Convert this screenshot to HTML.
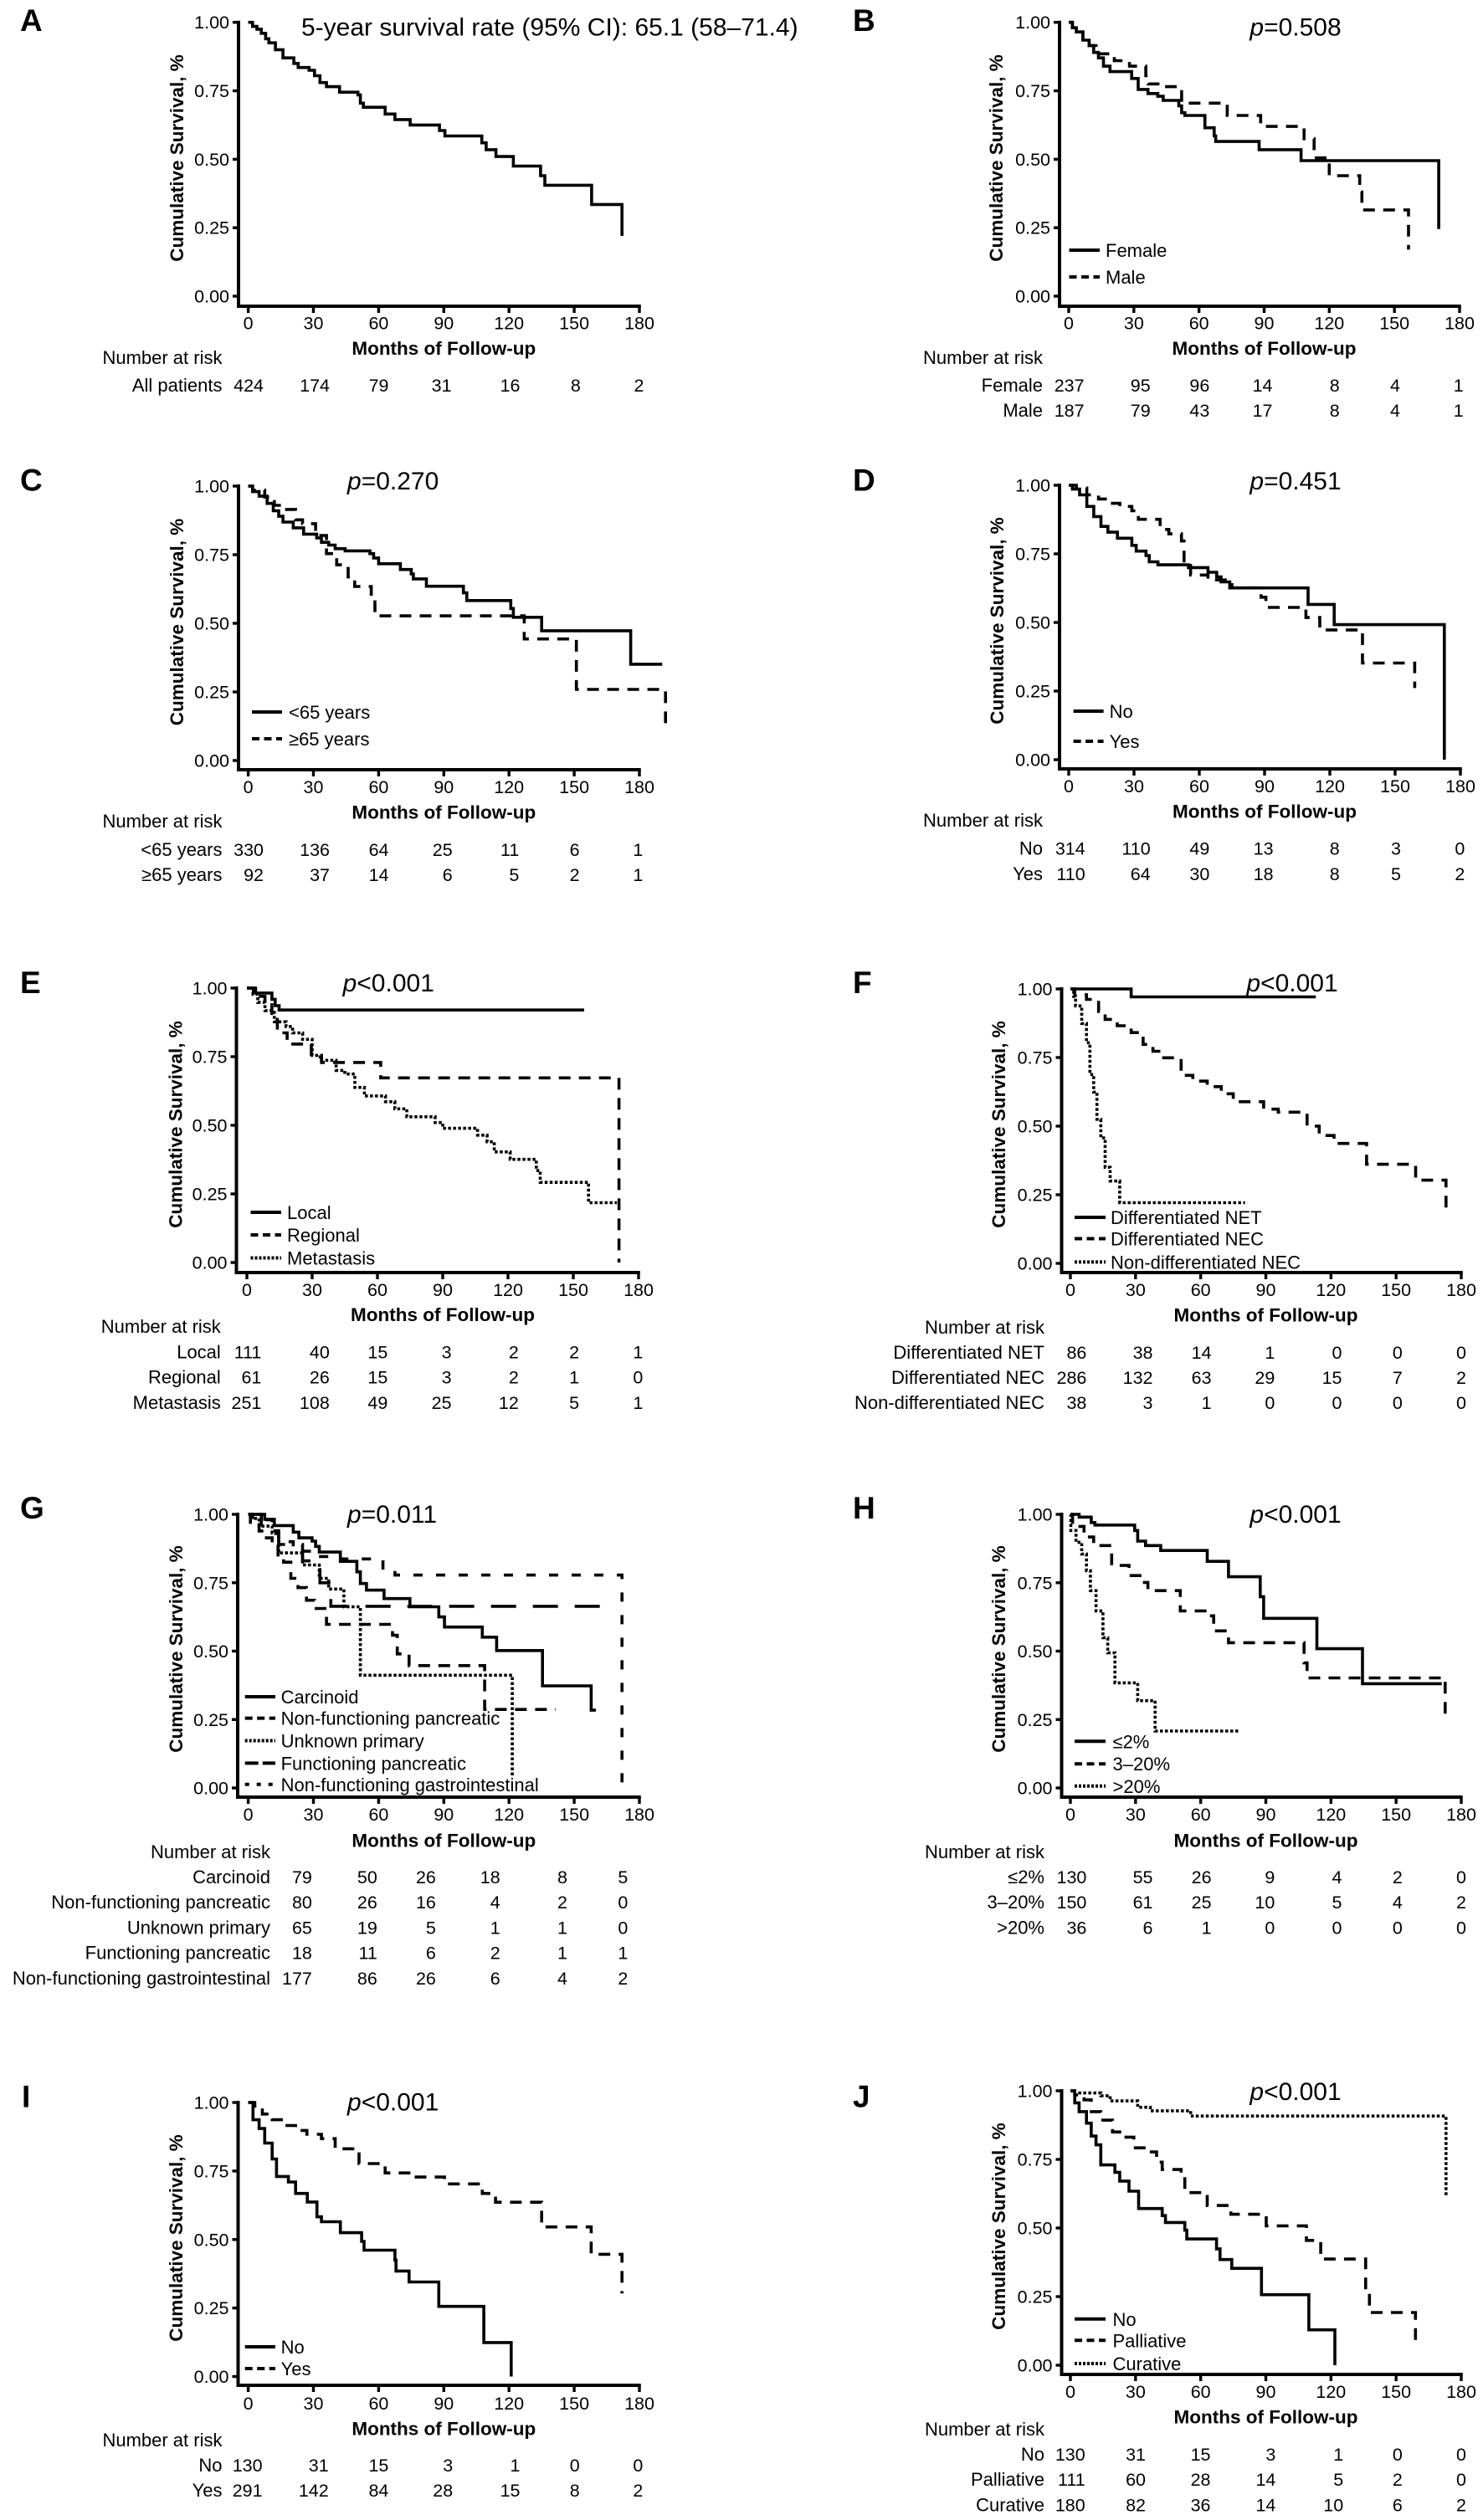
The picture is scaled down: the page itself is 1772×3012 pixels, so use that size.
<!DOCTYPE html>
<html lang="en">
<head>
<meta charset="utf-8">
<title>Kaplan-Meier survival curves, panels A to J</title>
<style>
  html, body { margin: 0; padding: 0; background: #fff; }
  svg { display: block; }
  text { font-family: "Liberation Sans", Arial, sans-serif; fill: #000; }
</style>
</head>
<body>
<svg id="figure" xmlns="http://www.w3.org/2000/svg" width="1772" height="3012" viewBox="0 0 1772 3012"></svg>
<script>
// ---------- shared axis values ----------
const xTickValues = [0, 30, 60, 90, 120, 150, 180];
const yTickValues = [0, 0.25, 0.5, 0.75, 1];
const yTickLabels = ['0.00', '0.25', '0.50', '0.75', '1.00'];

// ---------- Panel A ----------
const panelAMonths = [2,4,6,8,9.5,12.5,16,21,23,28,30.5,33,36,42,50.5,51.6,53,63,67.5,74.5,88,90.5,107.5,109.5,114,122,134.5,136.5,158,172];
const panelAAll = [.985,.975,.96,.94,.925,.9,.87,.85,.835,.825,.805,.78,.765,.745,.735,.705,.69,.665,.645,.625,.605,.585,.56,.535,.51,.475,.44,.405,.335,.22];

// ---------- Panel B ----------
const panelBFemaleMonths = [1.7,3.5,6.5,9.4,11.5,13.7,16,19,29,32,36.5,41,43.5,50.7,52,53.5,62.7,67,67.7,87.7,107,170.4];
const panelBFemale = [.98,.965,.935,.915,.89,.87,.84,.82,.795,.755,.74,.73,.715,.695,.67,.66,.615,.585,.565,.535,.495,.245];
const panelBMaleMonths = [1.7,4,6.5,9.4,12.6,21,28,35.5,36.6,43,52,73,88.4,108.4,113,120,134,135,156.5];
const panelBMale = [.98,.965,.935,.915,.885,.86,.84,.805,.775,.765,.705,.66,.62,.575,.505,.44,.38,.315,.17];

// ---------- Panel C ----------
const panelCYoungMonths = [2,5,8.7,11.5,14,16,20.7,25.5,31.5,33.7,37,40,44.6,56,57.7,60,70,75,76,82,99,100.6,120.8,122,135,176,190.5];
const panelCYoung = [.98,.963,.937,.91,.89,.869,.848,.825,.811,.795,.785,.772,.764,.754,.738,.717,.696,.68,.662,.635,.611,.583,.554,.522,.473,.351,.351];
const panelCOldMonths = [2,7.6,12,16,21.8,25,31,36,39,40.7,46,49,56.6,58.3,127,151,192];
const panelCOld = [.985,.96,.93,.915,.877,.863,.82,.754,.738,.713,.669,.634,.6,.527,.443,.259,.128];

// ---------- Panel D ----------
const panelDNoMonths = [1.7,5,8.3,11.5,14.8,18,22.4,29,31,35.5,37,41,55,64,68,70,74,110,122,172.6];
const panelDNo = [.986,.965,.923,.886,.85,.829,.807,.781,.76,.744,.721,.71,.7,.683,.666,.648,.626,.566,.492,0];
const panelDYesMonths = [3.5,8.3,13.7,19,23.5,29,32,42,46,51.8,53,56,64,73.6,75,88.4,90.6,109,115.4,135,159];
const panelDYes = [.99,.965,.95,.934,.923,.907,.876,.839,.823,.797,.708,.673,.655,.645,.626,.592,.555,.518,.473,.352,.261];

// ---------- Panel E ----------
const panelELocalMonths = [4,11.5,13,14.8,155];
const panelELocal = [.982,.959,.936,.92,.92];
const panelERegionalMonths = [3,8.3,11.5,14,18.5,29.6,34.3,61.5,171];
const panelERegional = [.97,.948,.9,.837,.796,.749,.729,.673,0];
const panelEMetastasisMonths = [2.8,5,8.3,12.6,18,21,25.6,30,34.3,41,45,49.6,54,63.7,68,73.5,86.5,90,106,110.4,113.7,121,133,134.8,157,170];
const panelEMetastasis = [.977,.948,.918,.877,.86,.837,.813,.755,.737,.7,.687,.638,.607,.586,.56,.531,.51,.489,.464,.44,.403,.376,.335,.292,.218,.218];

// ---------- Panel F ----------
const panelFNetMonths = [28,113];
const panelFNet = [.971,.971];
const panelFNecMonths = [2,7.4,13,16,21.6,28,33.5,38,42,51,56.4,63,69.5,75,89,95.7,109,114.6,121.4,136.4,159,173];
const panelFNec = [.979,.962,.918,.889,.866,.841,.798,.773,.749,.685,.664,.644,.618,.589,.562,.551,.5,.466,.437,.361,.303,.2];
const panelFNonDiffMonths = [1.5,2.4,5.2,7.4,9,10.7,12.2,14,16,18.3,22.7,80.4];
const panelFNonDiff = [.973,.938,.874,.804,.688,.624,.525,.457,.35,.3,.221,.221];

// ---------- Panel G ----------
const panelGCarcinoidMonths = [7.6,12,20.7,23.3,29.4,31,32.7,42.4,50,51.6,54.4,62.5,74.4,87.7,90.3,107.7,114.3,135.4,157.8,160];
const panelGCarcinoid = [.982,.959,.935,.914,.902,.883,.862,.828,.79,.747,.723,.692,.662,.625,.588,.551,.502,.373,.284,.284];
const panelGPancMonths = [1,5,7.6,11,13.7,16.3,19.6,22.9,26.8,30.5,36,66.4,68.6,74,108.8,141.5];
const panelGPanc = [.963,.939,.914,.889,.84,.825,.766,.732,.686,.656,.598,.558,.49,.447,.287,.287];
const panelGUnknownMonths = [2,5,11,14,25,32.7,37,44,51.6,121.5];
const panelGUnknown = [.985,.957,.932,.859,.815,.766,.727,.662,.412,.04];
const panelGFuncMonths = [6,14,25,33,38,169];
const panelGFunc = [.94,.89,.83,.75,.664,.664];
const panelGGiMonths = [2,11,14,20.7,30.5,41.4,62,67.5,172];
const panelGGi = [.98,.93,.9,.865,.846,.837,.797,.778,0];

// ---------- Panel H ----------
const panelHLowMonths = [4,9.6,11.3,29.6,31,34.6,41.6,63,72.8,87.4,89,113.5,134.5,171];
const panelHLow = [.99,.97,.961,.941,.902,.886,.868,.828,.772,.699,.62,.509,.381,.381];
const panelHMidMonths = [1,6.3,10.7,19,27,33,35.7,50.6,62,66,72.8,107.6,109,172.6];
const panelHMid = [.956,.917,.886,.813,.776,.751,.721,.647,.629,.574,.531,.457,.402,.27];
const panelHHighMonths = [.2,2.6,5.2,7.4,9.2,11.8,15,17.2,20.5,31,39,78.2];
const panelHHigh = [.941,.898,.855,.794,.721,.647,.549,.494,.384,.319,.208,.208];

// ---------- Panel I ----------
const panelINoMonths = [2.2,5,7.6,11,13,18.5,21.8,27.2,31.6,33.7,42.4,52.2,53.3,67.5,68,74,87.7,108.4,121];
const panelINo = [.937,.905,.852,.794,.73,.71,.668,.637,.583,.565,.525,.493,.461,.425,.385,.345,.256,.124,0];
const panelIYesMonths = [3,6.5,11,16,21.8,27,33.7,40,51,63,76,90.3,107.7,113.8,135,157.8,172];
const panelIYes = [.987,.958,.937,.916,.898,.884,.868,.831,.777,.743,.728,.703,.668,.636,.546,.446,.303];

// ---------- Panel J ----------
const panelJNoMonths = [2,4,7.4,9.6,11.8,14,20.5,22.7,27,31.4,42.3,43.8,52.7,53.6,67.3,68.9,74.3,88,109.8,121.8];
const panelJNo = [.956,.924,.882,.835,.803,.73,.703,.671,.634,.571,.545,.52,.492,.46,.424,.385,.353,.257,.129,0];
const panelJPalliativeMonths = [2,6.3,9.6,14,19.4,22.7,29.2,35.7,39.7,42.3,51,52.7,63,73.9,90.2,108.7,115.3,136,137.7,158.9];
const panelJPalliative = [.985,.967,.924,.893,.85,.831,.792,.777,.74,.713,.687,.629,.582,.55,.508,.455,.387,.271,.192,.086];
const panelJCurativeMonths = [2,14,18.3,31,36.8,55.4,173];
const panelJCurative = [.992,.982,.963,.94,.927,.908,.613];

// ---------- numbers at risk ----------
const riskA = [['All patients', ['424','174','79','31','16','8','2']]];
const riskB = [['Female', ['237','95','96','14','8','4','1']], ['Male', ['187','79','43','17','8','4','1']]];
const riskC = [['<65 years', ['330','136','64','25','11','6','1']], ['≥65 years', ['92','37','14','6','5','2','1']]];
const riskD = [['No', ['314','110','49','13','8','3','0']], ['Yes', ['110','64','30','18','8','5','2']]];
const riskE = [['Local', ['111','40','15','3','2','2','1']], ['Regional', ['61','26','15','3','2','1','0']], ['Metastasis', ['251','108','49','25','12','5','1']]];
const riskF = [['Differentiated NET', ['86','38','14','1','0','0','0']], ['Differentiated NEC', ['286','132','63','29','15','7','2']], ['Non-differentiated NEC', ['38','3','1','0','0','0','0']]];
const riskG = [['Carcinoid', ['79','50','26','18','8','5']], ['Non-functioning pancreatic', ['80','26','16','4','2','0']], ['Unknown primary', ['65','19','5','1','1','0']], ['Functioning pancreatic', ['18','11','6','2','1','1']], ['Non-functioning gastrointestinal', ['177','86','26','6','4','2']]];
const riskH = [['≤2%', ['130','55','26','9','4','2','0']], ['3–20%', ['150','61','25','10','5','4','2']], ['>20%', ['36','6','1','0','0','0','0']]];
const riskI = [['No', ['130','31','15','3','1','0','0']], ['Yes', ['291','142','84','28','15','8','2']]];
const riskJ = [['No', ['130','31','15','3','1','0','0']], ['Palliative', ['111','60','28','14','5','2','0']], ['Curative', ['180','82','36','14','10','6','2']]];

// ---------- line styles (curve dash, legend dash) ----------
const STYLE = {
  solid:  { curve: 'none',    legend: 'none' },
  dash:   { curve: '14 10',   legend: '9 5.5' },
  dot:    { curve: '3.5 2.5', legend: '3 2' },
  long:   { curve: '30 20',   legend: '16 5' },
  short:  { curve: '11 16',   legend: '5 9' }
};

// ---------- panel series ----------
const panelSeries = {
  A: [{ key: 'all-patients', style: 'solid', months: panelAMonths, surv: panelAAll }],
  B: [{ key: 'female', label: 'Female', style: 'solid', months: panelBFemaleMonths, surv: panelBFemale },
      { key: 'male', label: 'Male', style: 'dash', months: panelBMaleMonths, surv: panelBMale }],
  C: [{ key: 'under-65', label: '<65 years', style: 'solid', months: panelCYoungMonths, surv: panelCYoung },
      { key: 'over-65', label: '≥65 years', style: 'dash', months: panelCOldMonths, surv: panelCOld }],
  D: [{ key: 'no', label: 'No', style: 'solid', months: panelDNoMonths, surv: panelDNo },
      { key: 'yes', label: 'Yes', style: 'dash', months: panelDYesMonths, surv: panelDYes }],
  E: [{ key: 'local', label: 'Local', style: 'solid', months: panelELocalMonths, surv: panelELocal },
      { key: 'regional', label: 'Regional', style: 'dash', months: panelERegionalMonths, surv: panelERegional },
      { key: 'metastasis', label: 'Metastasis', style: 'dot', months: panelEMetastasisMonths, surv: panelEMetastasis }],
  F: [{ key: 'net', label: 'Differentiated NET', style: 'solid', months: panelFNetMonths, surv: panelFNet },
      { key: 'nec', label: 'Differentiated NEC', style: 'dash', months: panelFNecMonths, surv: panelFNec },
      { key: 'non-diff-nec', label: 'Non-differentiated NEC', style: 'dot', months: panelFNonDiffMonths, surv: panelFNonDiff }],
  G: [{ key: 'carcinoid', label: 'Carcinoid', style: 'solid', months: panelGCarcinoidMonths, surv: panelGCarcinoid },
      { key: 'non-func-pancreatic', label: 'Non-functioning pancreatic', style: 'dash', months: panelGPancMonths, surv: panelGPanc },
      { key: 'unknown-primary', label: 'Unknown primary', style: 'dot', months: panelGUnknownMonths, surv: panelGUnknown },
      { key: 'func-pancreatic', label: 'Functioning pancreatic', style: 'long', months: panelGFuncMonths, surv: panelGFunc },
      { key: 'non-func-gi', label: 'Non-functioning gastrointestinal', style: 'short', months: panelGGiMonths, surv: panelGGi }],
  H: [{ key: 'low', label: '≤2%', style: 'solid', months: panelHLowMonths, surv: panelHLow },
      { key: 'mid', label: '3–20%', style: 'dash', months: panelHMidMonths, surv: panelHMid },
      { key: 'high', label: '>20%', style: 'dot', months: panelHHighMonths, surv: panelHHigh }],
  I: [{ key: 'no', label: 'No', style: 'solid', months: panelINoMonths, surv: panelINo },
      { key: 'yes', label: 'Yes', style: 'dash', months: panelIYesMonths, surv: panelIYes }],
  J: [{ key: 'no', label: 'No', style: 'solid', months: panelJNoMonths, surv: panelJNo },
      { key: 'palliative', label: 'Palliative', style: 'dash', months: panelJPalliativeMonths, surv: panelJPalliative },
      { key: 'curative', label: 'Curative', style: 'dot', months: panelJCurativeMonths, surv: panelJCurative }]
};

const panelRisk = { A: riskA, B: riskB, C: riskC, D: riskD, E: riskE, F: riskF, G: riskG, H: riskH, I: riskI, J: riskJ };

const panelAnnotations = {
  A: { plain: '5-year survival rate (95% CI): 65.1 (58–71.4)' },
  B: { italic: 'p', plain: '=0.508' },
  C: { italic: 'p', plain: '=0.270' },
  D: { italic: 'p', plain: '=0.451' },
  E: { italic: 'p', plain: '<0.001' },
  F: { italic: 'p', plain: '<0.001' },
  G: { italic: 'p', plain: '=0.011' },
  H: { italic: 'p', plain: '<0.001' },
  I: { italic: 'p', plain: '<0.001' },
  J: { italic: 'p', plain: '<0.001' }
};

// ---------- layout (pixels; not data) ----------
const panelLayouts = {
  A: { lx:24, ly:37, ax:285, x0:296.6, x180:764, y1:26.7, y0:354, axisY:366, tickY:393.5, xlab:424, nar:435, rows:[468], rowRight:265.5, ylabX:219, ylabY:189, annX:360, annY:42.7,
       cols:[315,394,464.5,539.6,621.5,693.8,769.5], legX:0, legW:0, legTX:0, legY:[] },
  B: { lx:1019, ly:37, ax:1266, x0:1277, x180:1744, y1:26.7, y0:354, axisY:366, tickY:393.5, xlab:424, nar:435, rows:[468,498], rowRight:1246, ylabX:1198, ylabY:189, annX:1493.4, annY:42.7,
       cols:[1295.6,1374.7,1445.3,1520.5,1600.7,1673,1748.7], legX:1277.5, legW:36.5, legTX:1321, legY:[299,331] },
  C: { lx:24, ly:586.5, ax:285, x0:296.6, x180:764, y1:581, y0:909, axisY:920, tickY:948, xlab:978.5, nar:989, rows:[1023,1053], rowRight:265.5, ylabX:219, ylabY:743.5, annX:415, annY:584.8,
       cols:[315,394,464.5,540.7,620.3,692.6,768.4], legX:301, legW:36, legTX:345, legY:[851,883] },
  D: { lx:1019, ly:586.5, ax:1266, x0:1277, x180:1745, y1:580, y0:908, axisY:919, tickY:947, xlab:977.5, nar:988, rows:[1021.5,1052], rowRight:1246, ylabX:1199, ylabY:742, annX:1493.4, annY:584.8,
       cols:[1296.7,1374.7,1445.3,1521.6,1600.7,1674,1750.4], legX:1282.6, legW:36, legTX:1325.6, legY:[850,886] },
  E: { lx:24, ly:1187, ax:282.5, x0:295, x180:763, y1:1181, y0:1509, axisY:1521, tickY:1549, xlab:1579, nar:1593, rows:[1623.5,1653.5,1684], rowRight:263.8, ylabX:217.5, ylabY:1344, annX:409.6, annY:1185,
       cols:[312.4,393.8,463.3,539.6,619.8,692.1,768.4], legX:299.5, legW:36.5, legTX:343, legY:[1449,1476,1503.5] },
  F: { lx:1019, ly:1187, ax:1268.5, x0:1279, x180:1746, y1:1182, y0:1510, axisY:1521, tickY:1549, xlab:1579.5, nar:1594, rows:[1624,1654,1684], rowRight:1248, ylabX:1201, ylabY:1344, annX:1489.4, annY:1185,
       cols:[1298.4,1377.5,1447.6,1523.3,1603.5,1675.8,1752], legX:1284, legW:37, legTX:1327, legY:[1455,1480.5,1508.4] },
  G: { lx:24, ly:1815, ax:284, x0:296.6, x180:764, y1:1810, y0:2137, axisY:2148, tickY:2176, xlab:2207.5, nar:2221, rows:[2251,2281,2311.5,2341.5,2372], rowRight:323, ylabX:218, ylabY:1971, annX:415, annY:1820,
       cols:[372.9,450.8,520.9,597.7,678,750.3], legX:292.7, legW:36.3, legTX:335.6, legY:[2028,2053.6,2080.5,2107.4,2132.8] },
  H: { lx:1019, ly:1815, ax:1268.5, x0:1279, x180:1746, y1:1810, y0:2137, axisY:2148, tickY:2176, xlab:2207.5, nar:2221, rows:[2251,2281,2311.5], rowRight:1248, ylabX:1201, ylabY:1971, annX:1493.4, annY:1820,
       cols:[1298.4,1377.5,1447.6,1523.3,1603.5,1675.8,1752], legX:1284, legW:37, legTX:1329.5, legY:[2081.3,2108.2,2134.8] },
  I: { lx:26, ly:2518.4, ax:284.5, x0:296.6, x180:764, y1:2513, y0:2840.5, axisY:2851, tickY:2880, xlab:2910.5, nar:2924, rows:[2954,2984], rowRight:265.5, ylabX:218, ylabY:2675, annX:415, annY:2522.5,
       cols:[313.6,392.7,464.4,541.2,621.5,692.7,768.4], legX:292.7, legW:36.3, legTX:335.6, legY:[2805,2831] },
  J: { lx:1019, ly:2518.4, ax:1268.5, x0:1279, x180:1746, y1:2499, y0:2827, axisY:2838, tickY:2866, xlab:2896.5, nar:2911, rows:[2941,2971,3001.5], rowRight:1248, ylabX:1201, ylabY:2661, annX:1493.4, annY:2509.8,
       cols:[1296.7,1369,1446.5,1524.4,1605.2,1675.8,1752], legX:1284, legW:37, legTX:1329.5, legY:[2771.8,2797.3,2825] }
};

// ---------- drawing ----------
const SVG_NS = 'http://www.w3.org/2000/svg';
const figure = document.getElementById('figure');

function make(parent, tag, attrs, name) {
  const el = document.createElementNS(SVG_NS, tag);
  for (const k in attrs) el.setAttribute(k, attrs[k]);
  
  
  parent.appendChild(el);
  return el;
}

function label(parent, x, y, str, size, anchor, name, weight) {
  const t = make(parent, 'text', { x: x, y: y, 'font-size': size, 'text-anchor': anchor || 'start', 'font-weight': weight || 'normal' }, name);
  t.textContent = str;
  return t;
}

function drawPanel(id) {
  const L = panelLayouts[id];
  const g = make(figure, 'g', {}, 'panel-' + id.toLowerCase());
  const xScale = m => L.x0 + (L.x180 - L.x0) * m / 180;
  const yScale = s => L.y0 + (L.y1 - L.y0) * s;

  label(g, L.lx, L.ly, id, 37, 'start', 'panel-letter', 'bold');

  // axes
  make(g, 'line', { x1: L.ax, x2: L.ax, y1: L.y1 - 2, y2: L.axisY + 2, stroke: '#000', 'stroke-width': 4 }, 'y-axis-line');
  make(g, 'line', { x1: L.ax, x2: L.x180 + 1.75, y1: L.axisY, y2: L.axisY, stroke: '#000', 'stroke-width': 4 }, 'x-axis-line');
  xTickValues.forEach(v => {
    make(g, 'line', { x1: xScale(v), x2: xScale(v), y1: L.axisY, y2: L.axisY + 8, stroke: '#000', 'stroke-width': 3.4 }, 'x-tick');
    label(g, xScale(v), L.tickY, String(v), 21.5, 'middle', 'x-tick-label');
  });
  yTickValues.forEach((v, i) => {
    make(g, 'line', { x1: L.ax - 7, x2: L.ax, y1: yScale(v), y2: yScale(v), stroke: '#000', 'stroke-width': 3.4 }, 'y-tick');
    label(g, L.ax - 11, yScale(v) + 7.5, yTickLabels[i], 21.5, 'end', 'y-tick-label');
  });

  // axis titles
  const yTitle = label(g, 0, 0, 'Cumulative Survival, %', 22.5, 'middle', 'y-axis-title', 'bold');
  yTitle.setAttribute('transform', 'translate(' + L.ylabX + ',' + L.ylabY + ') rotate(-90)');
  label(g, (L.x0 + L.x180) / 2, L.xlab, 'Months of Follow-up', 22.5, 'middle', 'x-axis-title', 'bold');

  // annotation
  const note = panelAnnotations[id];
  const ann = make(g, 'text', { x: L.annX, y: L.annY, 'font-size': 30 }, note.italic ? 'p-value' : 'survival-rate-note');
  if (note.italic) {
    const it = document.createElementNS(SVG_NS, 'tspan');
    it.setAttribute('font-style', 'italic');
    it.textContent = note.italic;
    ann.appendChild(it);
  }
  ann.appendChild(document.createTextNode(note.plain));

  // curves
  const series = panelSeries[id];
  series.forEach((s, i) => {
    let d = 'M' + xScale(0) + ' ' + yScale(1);
    s.months.forEach((m, j) => {
      d += 'H' + xScale(m).toFixed(1) + 'V' + yScale(s.surv[j]).toFixed(1);
    });
    make(g, 'path', { d: d, fill: 'none', stroke: '#000', 'stroke-width': 3.6, 'stroke-dasharray': STYLE[s.style].curve, 'stroke-linejoin': 'miter' }, 'curve-' + s.key);
    if (s.label) {
      const ly = L.legY[i];
      make(g, 'line', { x1: L.legX, x2: L.legX + L.legW, y1: ly, y2: ly, stroke: '#000', 'stroke-width': 4, 'stroke-dasharray': STYLE[s.style].legend }, 'legend-swatch-' + s.key);
      label(g, L.legTX, ly + 8, s.label, 22, 'start', 'legend-label-' + s.key);
    }
  });

  // number at risk table
  label(g, L.rowRight, L.nar, 'Number at risk', 22, 'end', 'risk-table-title');
  panelRisk[id].forEach((row, r) => {
    label(g, L.rowRight, L.rows[r], row[0], 22, 'end', 'risk-row-label');
    row[1].forEach((val, c) => {
      label(g, L.cols[c], L.rows[r], val, 21.5, 'end', 'risk-count');
    });
  });
}

['A','B','C','D','E','F','G','H','I','J'].forEach(drawPanel);
</script>
</body>
</html>
